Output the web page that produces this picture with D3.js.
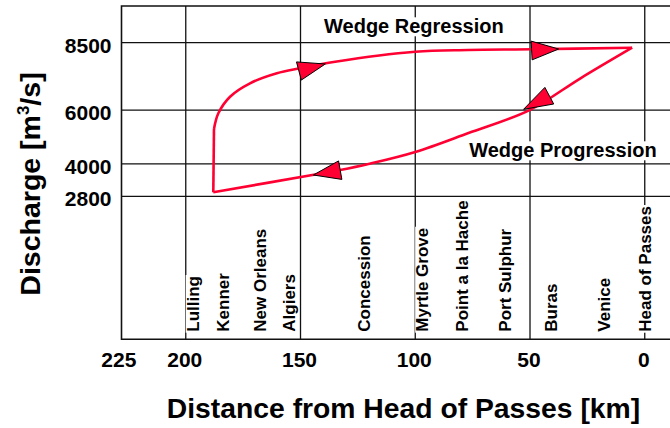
<!DOCTYPE html>
<html>
<head>
<meta charset="utf-8">
<script src="https://cdn.jsdelivr.net/npm/d3@7"></script>
<style>
  body { margin: 0; background: #fff; }
  svg { display: block; }
  text { font-family: "Liberation Sans", Arial, Helvetica, sans-serif; }
</style>
</head>
<body>
<svg id="chart" width="670" height="428"></svg>
<script>
// Axis ticks
const xTicks = [225, 200, 150, 100, 50, 0];
const yTicks = [8500, 6000, 4000, 2800];

// River stations along the Mississippi (km above Head of Passes)
const stationNames = ["Lulling", "Kenner", "New Orleans", "Algiers", "Concession",
  "Myrtle Grove", "Point a la Hache", "Port Sulphur", "Buras", "Venice", "Head of Passes"];
const stationKm = [196.9, 183.6, 167.8, 155.0, 122.3, 96.9, 79.6, 61.0, 41.0, 17.7, 0];

// Salt-wedge toe position versus discharge: rising limb at the low-flow toe
const risingKm = [188.0, 187.7];
const risingQ = [2950, 5300];
// Wedge regression (upper branch)
const regressionKm = [187.7, 185.8, 180.7, 172.0, 160.3, 150.2, 134.9, 100.0, 76.9, 49.1, 5.5];
const regressionQ = [5300, 5880, 6496, 6993, 7364, 7550, 7795, 8166, 8229, 8255, 8315];
// Wedge progression (lower branch)
const progressionKm = [5.5, 28.0, 50.2, 76.8, 100.0, 120.4, 132.7, 143.6, 188.0];
const progressionQ = [8315, 7180, 6000, 5149, 4444, 3998, 3776, 3609, 2950];

// Direction arrows: tip and base centre
const arrowTipKm = [139.2, 37.5, 52.8, 144.4];
const arrowTipQ = [7710, 8266, 6028, 3590];
const arrowBaseKm = [150.7, 49.3, 41.6, 132.7];
const arrowBaseQ = [7450, 8211, 6533, 3770];

const svg = d3.select("#chart");
const plotL = 121.5, plotR = 670, plotT = 6, plotB = 339.3;

const x = d3.scaleLinear().domain([228, -11]).range([plotL, plotR]);
const y = d3.scaleLinear().domain([-2507, 9862]).range([plotB, plotT]);

const red = "#ff0033";

// Grid
const grid = svg.append("g");
grid.selectAll("line.h").data(yTicks).join("line")
  .attr("class", "h")
  .attr("x1", plotL).attr("x2", plotR)
  .attr("y1", d => y(d)).attr("y2", d => y(d))
  .attr("stroke", "#111").attr("stroke-width", 1.3);
grid.selectAll("line.v").data(xTicks.filter(d => d < 225)).join("line")
  .attr("class", "v")
  .attr("x1", d => x(d)).attr("x2", d => x(d))
  .attr("y1", plotT).attr("y2", plotB)
  .attr("stroke", "#111").attr("stroke-width", 1.3);

// Frame: top, left, bottom
svg.append("path")
  .attr("d", `M${plotR},${plotT}H${plotL}V${plotB}H${plotR}`)
  .attr("fill", "none").attr("stroke", "#111").attr("stroke-width", 1.6);

// Station labels with white backing
const stG = svg.append("g").selectAll("g").data(stationNames).join("g")
  .attr("transform", (d, i) => `translate(${x(stationKm[i])},331.7) rotate(-90)`);
stG.append("rect").attr("fill", "#fff");
const stText = stG.append("text")
  .attr("x", 0).attr("y", 6)
  .attr("font-size", 17).attr("font-weight", "bold").attr("fill", "#000")
  .text(d => d);
stText.each(function () {
  const len = this.getComputedTextLength();
  d3.select(this.parentNode).select("rect")
    .attr("x", -1).attr("y", -7.2).attr("width", len + 2).attr("height", 16.6);
});

// Axes (tick labels only)
const xAxis = d3.axisBottom(x).tickValues(xTicks).tickSize(0).tickFormat(d3.format("d"));
const gx = svg.append("g").attr("transform", `translate(0,${plotB})`).call(xAxis);
gx.select(".domain").remove();
gx.selectAll("text")
  .attr("y", 27.4).attr("dy", null)
  .attr("dx", d => d === 225 ? -10 : -1.5)
  .attr("font-size", 21).attr("font-weight", "bold").attr("fill", "#000");

const yAxis = d3.axisLeft(y).tickValues(yTicks).tickSize(0).tickFormat(d3.format("d"));
const gy = svg.append("g").attr("transform", `translate(${plotL},0)`).call(yAxis);
gy.select(".domain").remove();
gy.selectAll("text")
  .attr("x", -10).attr("dy", 9.6)
  .attr("font-size", 21).attr("font-weight", "bold").attr("fill", "#000");
gx.attr("font-family", null);
gy.attr("font-family", null);
svg.selectAll(".tick line").remove();

// Axis titles
svg.append("text")
  .attr("x", 403.5).attr("y", 418.3)
  .attr("text-anchor", "middle")
  .attr("font-size", 28.3).attr("font-weight", "bold")
  .text("Distance from Head of Passes [km]");

const yt = svg.append("text")
  .attr("transform", "translate(40,184) rotate(-90)")
  .attr("text-anchor", "middle")
  .attr("font-size", 28.5).attr("font-weight", "bold");
yt.append("tspan").text("Discharge [m");
yt.append("tspan").attr("font-size", 17).attr("dy", -11).text("3");
yt.append("tspan").attr("dy", 11).text("/s]");

// Branch annotations
function boxedLabel(txt, cx, by) {
  const g = svg.append("g");
  const r = g.append("rect").attr("fill", "#fff");
  const t = g.append("text").attr("x", cx).attr("y", by)
    .attr("text-anchor", "middle").attr("font-size", 20).attr("font-weight", "bold")
    .text(txt);
  const b = t.node().getBBox();
  r.attr("x", b.x - 1).attr("y", b.y + 2).attr("width", b.width + 2).attr("height", b.height - 3);
}
boxedLabel("Wedge Regression", 413.9, 33.3);
boxedLabel("Wedge Progression", 562.9, 157.3);

// Loop curve
const lin = d3.line().x(d => x(d[0])).y(d => y(d[1]));
const smooth = d3.line().x(d => x(d[0])).y(d => y(d[1])).curve(d3.curveCatmullRom.alpha(0.5));
const zipPts = (a, b) => a.map((v, i) => [v, b[i]]);

const curve = svg.append("g").attr("fill", "none").attr("stroke", red)
  .attr("stroke-width", 2.6).attr("stroke-linejoin", "miter");
curve.append("path").attr("d", lin(zipPts(risingKm, risingQ)));
curve.append("path").attr("d", smooth(zipPts(regressionKm, regressionQ)));
curve.append("path").attr("d", smooth(zipPts(progressionKm, progressionQ)));

// Arrowheads
const halfW = 9.4;
svg.append("g").selectAll("path").data(arrowTipKm).join("path")
  .attr("d", (d, i) => {
    const tx = x(arrowTipKm[i]), ty = y(arrowTipQ[i]);
    const bx = x(arrowBaseKm[i]), by = y(arrowBaseQ[i]);
    const dx = tx - bx, dy = ty - by, L = Math.hypot(dx, dy);
    const nx = -dy / L * halfW, ny = dx / L * halfW;
    return `M${tx},${ty}L${bx + nx},${by + ny}L${bx - nx},${by - ny}Z`;
  })
  .attr("fill", red).attr("stroke", "#000").attr("stroke-width", 1)
  .attr("stroke-linejoin", "miter");
</script>
</body>
</html>
